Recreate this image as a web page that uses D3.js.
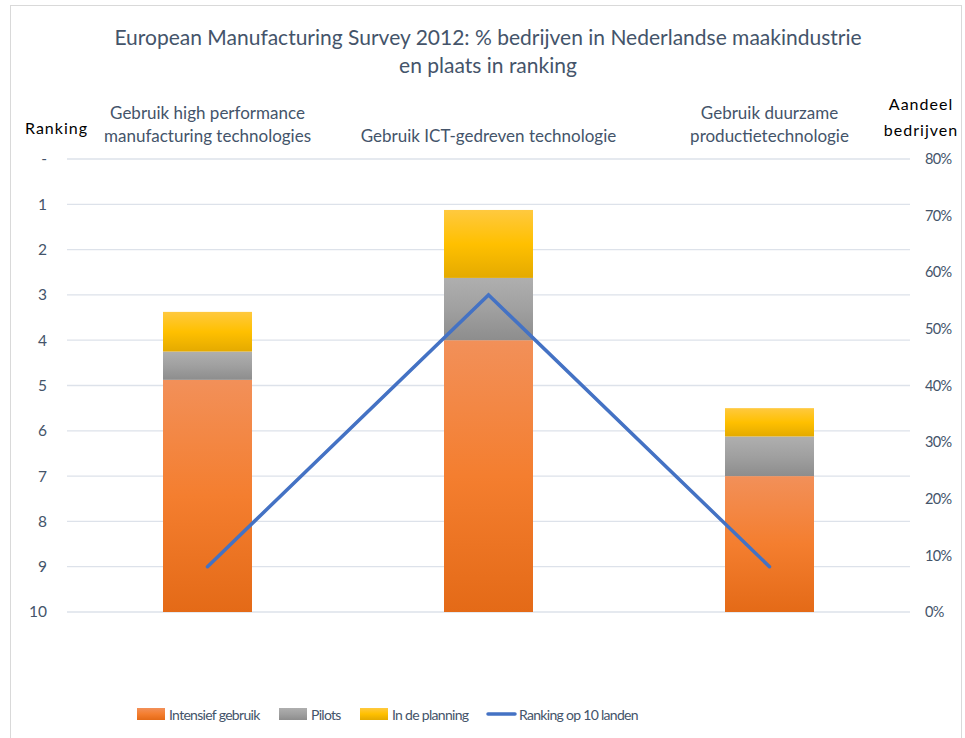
<!DOCTYPE html>
<html>
<head>
<meta charset="utf-8">
<script src="https://cdn.jsdelivr.net/npm/d3@7"></script>
<style>
  body { margin: 0; background: #fff; }
  text { font-family: Lato, "Open Sans", sans-serif; }
</style>
</head>
<body>
<script>
// data
const categories = [
    ["Gebruik high performance", "manufacturing technologies"],
    ["Gebruik ICT-gedreven technologie"],
    ["Gebruik duurzame", "productietechnologie"]
];
const intensief = [41, 48, 24];
const pilots = [5, 11, 7];
const planning = [7, 12, 5];
const ranking = [9, 3, 9];
const rankTicks = [0, 1, 2, 3, 4, 5, 6, 7, 8, 9, 10];
const pctTicks = [0, 10, 20, 30, 40, 50, 60, 70, 80];
const seriesNames = ["Intensief gebruik", "Pilots", "In de planning", "Ranking op 10 landen"];

const width = 965, height = 738;
const margin = {top: 159, right: 55, bottom: 126, left: 67};
const textColor = "#44546a";

const svg = d3.select("body").append("svg")
    .attr("width", width)
    .attr("height", height);

// gradients like the excel fill
const defs = svg.append("defs");
const grads = [
    {id: "gOrange", stops: ["#f29059", "#f47e2f", "#e46a17"]},
    {id: "gGray", stops: ["#afafaf", "#a0a0a0", "#8d8d8d"]},
    {id: "gYellow", stops: ["#ffc93f", "#ffc000", "#e4aa00"]}
];
grads.forEach(g => {
    const lg = defs.append("linearGradient").attr("id", g.id)
        .attr("x1", 0).attr("y1", 0).attr("x2", 0).attr("y2", 1);
    g.stops.forEach((c, i) => lg.append("stop").attr("offset", i / 2).attr("stop-color", c));
});

// chart border
svg.append("rect")
    .attr("x", 10.5).attr("y", 5.5)
    .attr("width", 951).attr("height", 760)
    .attr("fill", "none")
    .attr("stroke", "#d9d9d9");

const xscale = d3.scaleBand()
    .domain(d3.range(categories.length))
    .range([margin.left, width - margin.right]);

const yRank = d3.scaleLinear()
    .domain([0, 10])
    .range([margin.top, height - margin.bottom]);

const yPct = d3.scaleLinear()
    .domain([0, 80])
    .range([height - margin.bottom, margin.top]);

// gridlines from ranking axis
svg.append("g")
    .selectAll("line")
    .data(rankTicks)
    .enter()
    .append("line")
    .attr("x1", margin.left).attr("x2", width - margin.right)
    .attr("y1", d => yRank(d)).attr("y2", d => yRank(d))
    .attr("stroke", "#dde2ea")
    .attr("stroke-width", 1.3);

// left axis
const leftAxis = svg.append("g")
    .attr("transform", `translate(${margin.left - 17},0)`)
    .call(d3.axisLeft(yRank).tickValues(rankTicks).tickSize(0)
        .tickFormat(d => d === 0 ? "-" : d));
leftAxis.select(".domain").remove();
leftAxis.selectAll("text")
    .attr("fill", textColor)
    .attr("font-size", 15.5)
    .attr("font-family", "Lato, sans-serif");

// right axis
const rightAxis = svg.append("g")
    .attr("transform", `translate(${width - margin.right + 12},0)`)
    .call(d3.axisRight(yPct).tickValues(pctTicks).tickSize(0).tickFormat(d => d + "%"));
rightAxis.select(".domain").remove();
rightAxis.selectAll("text")
    .attr("fill", textColor)
    .attr("font-size", 14.5)
    .attr("letter-spacing", -0.6)
    .attr("font-family", "Lato, sans-serif");

// stacked bars
const stacks = categories.map((c, i) => {
    const a = intensief[i], b = pilots[i], p = planning[i];
    return [
        {i: i, y0: 0, y1: a, fill: "url(#gOrange)"},
        {i: i, y0: a, y1: a + b, fill: "url(#gGray)"},
        {i: i, y0: a + b, y1: a + b + p, fill: "url(#gYellow)"}
    ];
}).flat();

const barW = 89;
svg.append("g")
    .selectAll("rect")
    .data(stacks)
    .enter()
    .append("rect")
    .attr("x", d => xscale(d.i) + xscale.bandwidth() / 2 - barW / 2)
    .attr("y", d => yPct(d.y1))
    .attr("width", barW)
    .attr("height", d => yPct(d.y0) - yPct(d.y1))
    .attr("fill", d => d.fill);

// ranking line
const line = d3.line()
    .x((d, i) => xscale(i) + xscale.bandwidth() / 2)
    .y(d => yRank(d));

svg.append("path")
    .datum(ranking)
    .attr("d", line)
    .attr("fill", "none")
    .attr("stroke", "#4472c4")
    .attr("stroke-width", 3.5)
    .attr("stroke-linecap", "round")
    .attr("stroke-linejoin", "miter");

// title
svg.append("text")
    .attr("x", 488).attr("y", 0)
    .attr("text-anchor", "middle")
    .attr("fill", textColor)
    .attr("font-size", 21)
    .selectAll("tspan")
    .data(["European Manufacturing Survey 2012: % bedrijven in Nederlandse maakindustrie", "en plaats in ranking"])
    .enter()
    .append("tspan")
    .attr("x", 488)
    .attr("y", (d, i) => 45 + i * 28)
    .text(d => d);

// category labels above bars
categories.forEach((lines, i) => {
    const cx = xscale(i) + xscale.bandwidth() / 2;
    lines.forEach((t, j) => {
        svg.append("text")
            .attr("x", cx)
            .attr("y", 142 - (lines.length - 1 - j) * 23)
            .attr("text-anchor", "middle")
            .attr("fill", textColor)
            .attr("font-size", 17)
            .text(t);
    });
});

// axis titles
svg.append("text")
    .attr("x", 25).attr("y", 134)
    .attr("font-size", 16)
    .attr("letter-spacing", 1)
    .attr("fill", "#000")
    .text("Ranking");

["Aandeel", "bedrijven"].forEach((t, j) => {
    svg.append("text")
        .attr("x", 921).attr("y", 110 + j * 26)
        .attr("text-anchor", "middle")
        .attr("font-size", 16)
        .attr("letter-spacing", 1)
        .attr("fill", "#000")
        .text(t);
});

// legend
const legendX = [137, 279, 360, 487];
const legend = svg.append("g");
seriesNames.forEach((name, i) => {
    const g = legend.append("g").attr("transform", `translate(${legendX[i]},714)`);
    if (i < 3) {
        g.append("rect")
            .attr("x", 0).attr("y", -6)
            .attr("width", 28).attr("height", 12)
            .attr("fill", `url(#${grads[i].id})`);
    } else {
        g.append("line")
            .attr("x1", 1).attr("x2", 28)
            .attr("y1", 0).attr("y2", 0)
            .attr("stroke", "#4472c4")
            .attr("stroke-width", 3.5)
            .attr("stroke-linecap", "round");
    }
    g.append("text")
        .attr("x", 32).attr("y", 5.5)
        .attr("font-size", 14)
        .attr("letter-spacing", -0.7)
        .attr("fill", textColor)
        .text(name);
});
</script>
</body>
</html>
